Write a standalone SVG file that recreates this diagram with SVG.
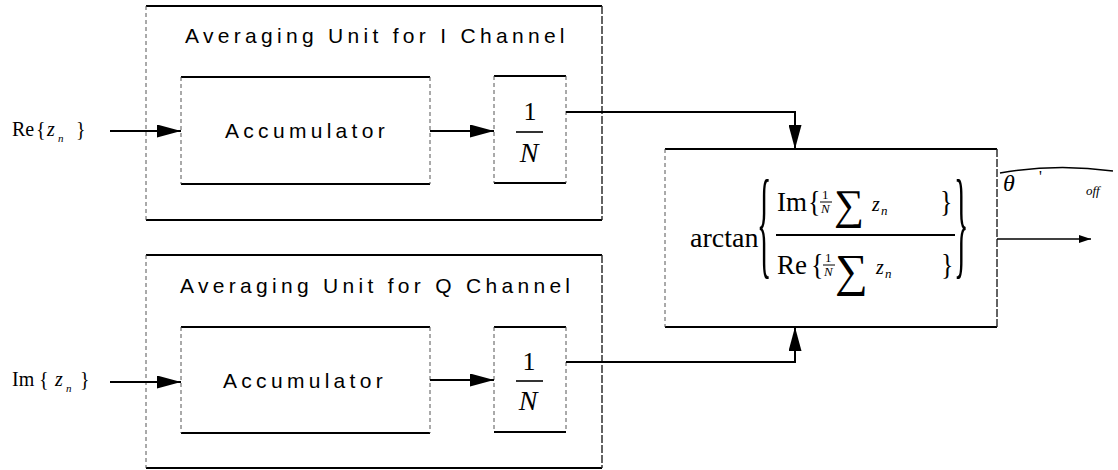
<svg xmlns="http://www.w3.org/2000/svg" width="1118" height="470" viewBox="0 0 1118 470">
<defs>
<style>
.solid{stroke:#000;stroke-width:1.8;fill:none}
.side{stroke:#555;stroke-width:1;stroke-dasharray:4 3;fill:none}
.sideDark{stroke:#222;stroke-width:1.4;stroke-dasharray:8 2;fill:none}
.conn{stroke:#000;stroke-width:2;fill:none}
.sans{font-family:"Liberation Sans",Arial,sans-serif;font-size:21px;letter-spacing:4.3px;fill:#000}
.ser{font-family:"Liberation Serif","DejaVu Serif",serif;fill:#000}
.it{font-style:italic}
</style>
<marker id="ah" markerWidth="12" markerHeight="8" refX="12" refY="4" orient="auto" markerUnits="userSpaceOnUse" viewBox="0 0 12 8">
<path d="M0,0 L12,4 L0,8 z" fill="#000"/>
</marker>
<marker id="ahBig" markerWidth="24" markerHeight="13" refX="24" refY="6.5" orient="auto" markerUnits="userSpaceOnUse" viewBox="0 0 24 13">
<path d="M0,0 L24,6.5 L0,13 z" fill="#000"/>
</marker>
</defs>
<rect width="1118" height="470" fill="#fff"/>

<g id="unitI">
<line class="solid" x1="146" y1="6" x2="602" y2="6"/>
<line class="solid" x1="146" y1="220" x2="602" y2="220"/>
<line class="side" x1="146" y1="6" x2="146" y2="220"/>
<line class="sideDark" x1="602" y1="6" x2="602" y2="220"/>
<text class="sans" x="185" y="43">Averaging Unit for I Channel</text>
</g>
<g id="accI">
<line class="solid" x1="181" y1="77" x2="430" y2="77"/>
<line class="solid" x1="181" y1="184" x2="430" y2="184"/>
<line class="side" x1="181" y1="77" x2="181" y2="184"/>
<line class="side" x1="430" y1="77" x2="430" y2="184"/>
<text class="sans" x="225" y="138">Accumulator</text>
</g>
<g id="divI">
<line class="solid" x1="494" y1="76" x2="566" y2="76"/>
<line class="solid" x1="494" y1="183" x2="566" y2="183"/>
<line class="side" x1="494" y1="76" x2="494" y2="183"/>
<line class="side" x1="566" y1="76" x2="566" y2="183"/>
<text class="ser" x="530" y="120" font-size="26" text-anchor="middle">1</text>
<line x1="516" y1="132" x2="543" y2="132" stroke="#000" stroke-width="1.6"/>
<text class="ser it" x="529" y="162" font-size="28" text-anchor="middle">N</text>
</g>

<g id="unitQ">
<line class="solid" x1="146" y1="255" x2="602" y2="255"/>
<line class="solid" x1="146" y1="468" x2="602" y2="468"/>
<line class="side" x1="146" y1="255" x2="146" y2="468"/>
<line class="sideDark" x1="602" y1="255" x2="602" y2="468"/>
<text class="sans" x="180" y="293" letter-spacing="4.05">Averaging Unit for Q Channel</text>
</g>
<g id="accQ">
<line class="solid" x1="181" y1="327" x2="430" y2="327"/>
<line class="solid" x1="181" y1="433" x2="430" y2="433"/>
<line class="side" x1="181" y1="327" x2="181" y2="433"/>
<line class="side" x1="430" y1="327" x2="430" y2="433"/>
<text class="sans" x="223" y="388">Accumulator</text>
</g>
<g id="divQ">
<line class="solid" x1="494" y1="327" x2="566" y2="327"/>
<line class="solid" x1="494" y1="432" x2="566" y2="432"/>
<line class="side" x1="494" y1="327" x2="494" y2="432"/>
<line class="side" x1="566" y1="327" x2="566" y2="432"/>
<text class="ser" x="529" y="370" font-size="26" text-anchor="middle">1</text>
<line x1="516" y1="381" x2="543" y2="381" stroke="#000" stroke-width="1.6"/>
<text class="ser it" x="528" y="410" font-size="28" text-anchor="middle">N</text>
</g>

<g id="inRe">
<text class="ser" y="136" font-size="20"><tspan x="12">Re</tspan><tspan x="36">{</tspan><tspan x="47" class="it">z</tspan><tspan x="58" y="142" font-size="11" class="it">n</tspan><tspan x="76" y="136">}</tspan></text>
</g>
<g id="inIm">
<text class="ser" y="386" font-size="20"><tspan x="12">Im</tspan><tspan x="39">{</tspan><tspan x="55" class="it">z</tspan><tspan x="66" y="392" font-size="11" class="it">n</tspan><tspan x="80" y="386">}</tspan></text>
</g>

<g id="arctanBox">
<line class="solid" x1="665" y1="149" x2="997" y2="149"/>
<line class="solid" x1="665" y1="327" x2="997" y2="327"/>
<line class="side" x1="665" y1="149" x2="665" y2="327"/>
<line class="sideDark" x1="997" y1="149" x2="997" y2="327"/>
<text class="ser" x="690" y="247" font-size="28">arctan</text>
<text class="ser" font-size="30" transform="translate(757,263) scale(1,4)">{</text>
<text class="ser" font-size="30" transform="translate(954,263) scale(1,4)">}</text>
<text class="ser" x="777" y="211" font-size="27">Im</text>
<text class="ser" font-size="26" transform="translate(808,211) scale(1,1.15)">{</text>
<text class="ser" x="822" y="199" font-size="13">1</text>
<line x1="820" y1="202" x2="832" y2="202" stroke="#000" stroke-width="1"/>
<text class="ser it" x="821" y="213" font-size="13">N</text>
<text class="ser" x="834" y="219" font-size="42">∑</text>
<text class="ser it" x="872" y="211" font-size="20">z</text>
<text class="ser it" x="881" y="215" font-size="13">n</text>
<text class="ser" font-size="26" transform="translate(940,211) scale(1,1.15)">}</text>
<line x1="776" y1="235" x2="955" y2="235" stroke="#000" stroke-width="1.8"/>
<text class="ser" x="777" y="274" font-size="27">Re</text>
<text class="ser" font-size="26" transform="translate(811,274) scale(1,1.15)">{</text>
<text class="ser" x="825" y="262" font-size="13">1</text>
<line x1="823" y1="265" x2="835" y2="265" stroke="#000" stroke-width="1"/>
<text class="ser it" x="824" y="276" font-size="13">N</text>
<text class="ser" x="835" y="286" font-size="46">∑</text>
<text class="ser it" x="876" y="274" font-size="20">z</text>
<text class="ser it" x="885" y="278" font-size="13">n</text>
<text class="ser" font-size="26" transform="translate(941,274) scale(1,1.15)">}</text>
</g>

<g id="outLabel">
<text class="ser it" x="1003" y="191" font-size="24">θ</text>
<text class="ser" x="1039" y="182" font-size="16">'</text>
<text class="ser it" x="1086" y="195" font-size="13">off</text>
<path d="M1000,173 Q1056,163 1113,171" stroke="#000" stroke-width="1.5" fill="none"/>
</g>

<g id="connectors">
<line class="conn" x1="110" y1="131" x2="181" y2="131" marker-end="url(#ahBig)"/>
<line class="conn" x1="430" y1="131" x2="494" y2="131" marker-end="url(#ahBig)"/>
<line class="conn" x1="110" y1="382" x2="181" y2="382" marker-end="url(#ahBig)"/>
<line class="conn" x1="430" y1="380" x2="494" y2="380" marker-end="url(#ahBig)"/>
<polyline class="conn" points="566,112 795,112 795,149" marker-end="url(#ahBig)"/>
<polyline class="conn" points="566,362 795,362 795,327" marker-end="url(#ahBig)"/>
<line x1="997" y1="239" x2="1091" y2="239" stroke="#000" stroke-width="1.6" marker-end="url(#ah)"/>
</g>
</svg>
